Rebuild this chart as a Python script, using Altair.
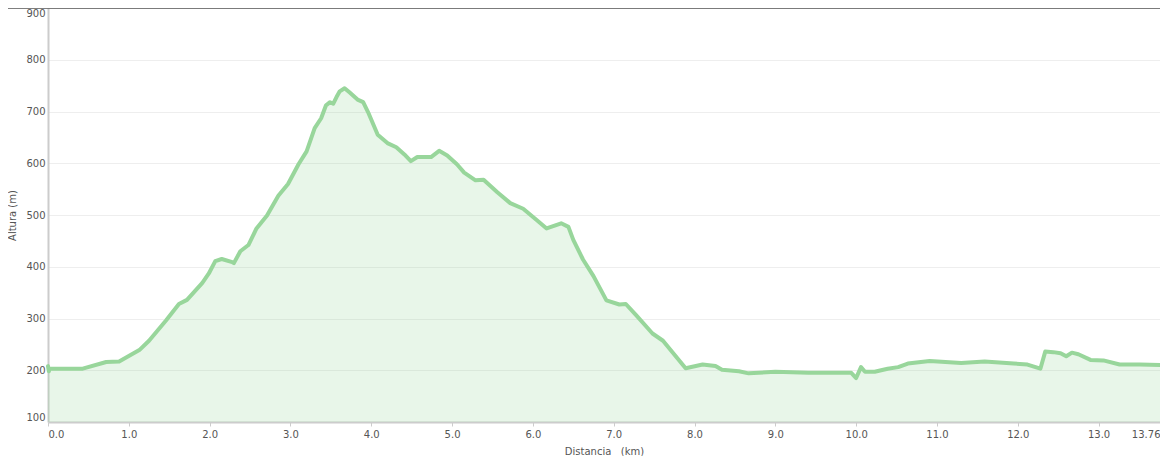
import altair as alt
import pandas as pd

km = [0.0, 0.01, 0.02, 0.43, 0.72, 0.88, 1.13, 1.25, 1.46, 1.62, 1.72, 1.91, 1.99, 2.07, 2.15,
      2.28, 2.30, 2.38, 2.48, 2.58, 2.71, 2.85, 2.97, 3.10, 3.20, 3.30, 3.38, 3.44, 3.49, 3.53,
      3.57, 3.61, 3.67, 3.73, 3.83, 3.90, 3.96, 4.08, 4.20, 4.31, 4.41, 4.49, 4.57, 4.74, 4.84,
      4.94, 5.06, 5.15, 5.29, 5.39, 5.56, 5.72, 5.88, 6.05, 6.17, 6.35, 6.44, 6.50, 6.62, 6.75,
      6.91, 7.07, 7.15, 7.28, 7.48, 7.61, 7.89, 8.10, 8.26, 8.34, 8.55, 8.67, 9.00, 9.41, 9.94,
      10.00, 10.06, 10.11, 10.23, 10.39, 10.52, 10.64, 10.91, 11.30, 11.59, 11.95, 12.12, 12.28,
      12.34, 12.44, 12.53, 12.60, 12.67, 12.75, 12.90, 13.06, 13.26, 13.51, 13.76]
altura = [208, 198, 203, 203, 216, 217, 239, 257, 296, 328, 336, 369, 387, 411, 415,
          409, 407, 430, 442, 474, 499, 537, 560, 598, 623, 668, 687, 712, 718, 715,
          728, 739, 745, 737, 723, 718, 699, 655, 639, 631, 617, 604, 612, 612, 624,
          615, 598, 582, 567, 568, 544, 523, 512, 490, 474, 484, 477, 452, 414, 382,
          335, 327, 328, 306, 271, 257, 204, 211, 208, 201, 198, 194, 197, 195, 195,
          185, 206, 197, 197, 203, 206, 213, 218, 214, 217, 213, 211, 203,
          236, 235, 233, 227, 234, 231, 220, 219, 211, 211, 210]

x_ticks = [0, 1, 2, 3, 4, 5, 6, 7, 8, 9, 10, 11, 12, 13, 13.76]
y_ticks = [100, 200, 300, 400, 500, 600, 700, 800, 900]

W, H = 1112, 414
LINE = "#98d69b"
FONT = "DejaVu Sans"
TXT = "#555555"

df = pd.DataFrame({"km": km, "alt": altura})

xs = alt.Scale(domain=[0, 13.76], nice=False, zero=False)
ys = alt.Scale(domain=[100, 900], nice=False, zero=False)

x_axis = alt.Axis(
    values=x_ticks,
    labelExpr="datum.value > 13.5 ? '13.76' : format(datum.value, '.1f')",
    title="Distancia\u00a0\u00a0\u00a0(km)",
    grid=False,
    domainColor="#cccccc", domainWidth=2,
    tickColor="#cccccc", tickSize=4, tickWidth=1,
    labelFont=FONT, labelFontSize=10, labelColor=TXT, labelPadding=3,
    labelFlush=True,
    titleFont=FONT, titleFontSize=10, titleFontWeight="normal", titleColor=TXT,
    titleX=W / 2, titleY=29, titleBaseline="middle", titleAlign="center",
)
y_axis = alt.Axis(
    values=y_ticks,
    title="Altura (m)",
    grid=True, gridColor="#eeeeee", gridWidth=1,
    domainColor="#cccccc", domainWidth=2,
    ticks=False,
    labelFont=FONT, labelFontSize=10, labelColor=TXT, labelPadding=3,
    labelFlush=True, labelFlushOffset=0,
    titleFont=FONT, titleFontSize=10, titleFontWeight="normal", titleColor=TXT,
    titleX=-36, titleY=H / 2, titleAngle=270, titleBaseline="middle", titleAlign="center",
)

base = alt.Chart(df)

area = base.mark_area(color=LINE, opacity=0.22).encode(
    x=alt.X("km:Q", scale=xs, axis=x_axis),
    y=alt.Y("alt:Q", scale=ys, axis=y_axis),
    y2=alt.datum(100),
)
line = base.mark_line(color=LINE, strokeWidth=4, strokeJoin="round", strokeCap="round").encode(
    x=alt.X("km:Q", scale=xs),
    y=alt.Y("alt:Q", scale=ys),
)
top = alt.Chart(pd.DataFrame({"a": [0]})).mark_rule(color="#555555", strokeWidth=1.5).encode(
    x=alt.value(-40), x2=alt.value(W), y=alt.value(0)
)

chart = alt.layer(area, line, top).properties(
    width=W, height=H,
    autosize=alt.AutoSizeParams(type="none"),
    padding={"left": 40, "top": 0, "right": 0, "bottom": 34},
).configure_view(stroke=None)

chart.save("out.html", embed_options={"renderer": "svg", "actions": False})
